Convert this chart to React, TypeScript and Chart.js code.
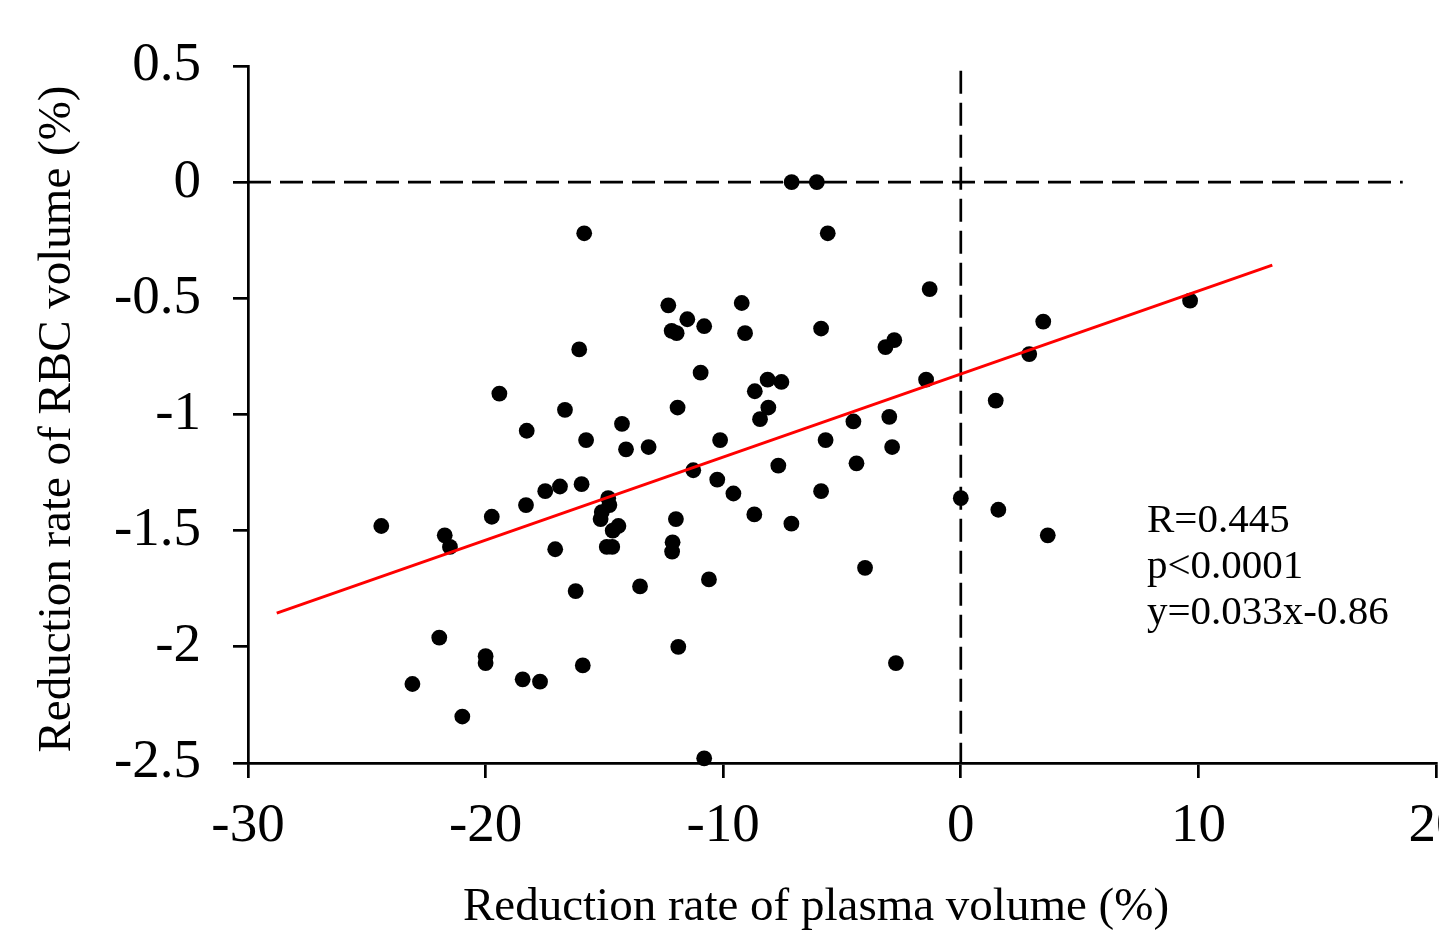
import React, { useEffect, useRef } from 'react';
import { Chart, registerables } from 'chart.js';

Chart.register(...registerables);

// Scatter data: reduction rate of plasma volume (%) vs reduction rate of RBC volume (%)
const plasmaX = [
  -24.39, -21.72, -21.5, -21.95, -23.08, -20.98, -20.0, -20.0, -19.74, -19.42,
  -18.27, -18.3, -18.44, -17.71, -17.49, -16.87, -17.07, -16.66, -16.06, -15.85,
  -15.77, -15.96, -16.21, -15.91, -14.84, -14.79, -15.11, -15.16, -14.41, -14.65,
  -14.9, -14.67, -14.26, -14.09, -13.14, -13.5, -12.31, -12.17, -11.96, -11.51,
  -10.8, -10.95, -11.92, -11.26, -11.99, -12.13, -12.15, -11.89, -10.6, -10.8,
  -10.25, -10.13, -9.57, -9.22, -9.08, -8.67, -8.1, -8.45, -8.13, -7.55,
  -8.69, -7.68, -7.13, -7.12, -6.06, -5.6, -5.88, -5.69, -5.88, -4.52,
  -4.39, -4.03, -3.17, -2.8, -3.01, -2.89, -2.73, -1.31, -1.46, 0.0,
  1.47, 1.58, 2.88, 3.47, 3.66, 9.65,
];
const rbcY = [
  -1.48, -1.52, -1.57, -1.96, -2.16, -2.3, -2.04, -2.07, -1.44, -0.91,
  -1.07, -1.39, -2.14, -2.15, -1.33, -1.31, -1.58, -0.98, -0.72, -0.22,
  -1.11, -1.3, -1.76, -2.08, -1.36, -1.39, -1.42, -1.45, -1.48, -1.5,
  -1.57, -1.57, -1.04, -1.15, -1.14, -1.74, -0.53, -0.64, -0.65, -0.59,
  -0.62, -0.82, -0.97, -1.24, -1.45, -1.55, -1.59, -2.0, -1.71, -2.48,
  -1.28, -1.11, -1.34, -0.52, -0.65, -0.9, -0.97, -1.02, -0.85, -0.86,
  -1.43, -1.22, -1.47, 0.0, 0.0, -0.22, -0.63, -1.11, -1.33, -1.03,
  -1.21, -1.66, -0.71, -0.68, -1.01, -1.14, -2.07, -0.46, -0.85, -1.36,
  -0.94, -1.41, -0.74, -0.6, -1.52, -0.51,
];

// Regression line end points
const fitX = [-28.79, 13.11];
const fitY = [-1.855, -0.357];

// Dashed reference lines at y = 0 and x = 0
const hRefX = [-30, 18.6];
const hRefY = [0, 0];
const vRefX = [0, 0];
const vRefY = [0.48, -2.5];

const xTicks = [-30, -20, -10, 0, 10, 20];
const xTickLabels = ['-30', '-20', '-10', '0', '10', '20'];
const yTicks = [0.5, 0, -0.5, -1, -1.5, -2, -2.5];
const yTickLabels = ['0.5', '0', '-0.5', '-1', '-1.5', '-2', '-2.5'];

const xTitle = 'Reduction rate of plasma volume (%)';
const yTitle = 'Reduction rate of RBC volume (%)';
const statsLines = ['R=0.445', 'p<0.0001', 'y=0.033x-0.86'];

const SERIF = '"Liberation Serif", "Times New Roman", Times, serif';

const textPlugin = {
  id: 'customTexts',
  afterDraw(chart: any) {
    const ctx = chart.ctx;
    ctx.save();
    ctx.fillStyle = '#000';
    ctx.font = `47px ${SERIF}`;
    ctx.textAlign = 'center';
    ctx.textBaseline = 'alphabetic';
    ctx.fillText(xTitle, 816, 920);
    ctx.translate(70, 419);
    ctx.rotate(-Math.PI / 2);
    ctx.fillText(yTitle, 0, 0);
    ctx.restore();

    ctx.save();
    ctx.fillStyle = '#000';
    ctx.font = `41px ${SERIF}`;
    ctx.textAlign = 'left';
    ctx.textBaseline = 'alphabetic';
    statsLines.forEach((t, i) => ctx.fillText(t, 1147, 532 + i * 46));
    ctx.restore();
  },
};

const toPts = (xs: number[], ys: number[]) => xs.map((x, i) => ({ x, y: ys[i] }));

export default function App() {
  const ref = useRef<HTMLCanvasElement | null>(null);

  useEffect(() => {
    if (!ref.current) return;
    const chart = new Chart(ref.current, {
      type: 'scatter',
      data: {
        datasets: [
          {
            label: 'fit',
            data: toPts(fitX, fitY),
            showLine: true,
            borderColor: '#ff0000',
            borderWidth: 3,
            pointRadius: 0,
            order: 0,
          } as any,
          {
            label: 'data',
            data: toPts(plasmaX, rbcY),
            backgroundColor: '#000',
            borderColor: '#000',
            borderWidth: 0,
            pointRadius: 7.9,
            pointHoverRadius: 7.9,
            order: 1,
          },
          {
            label: 'h0',
            data: toPts(hRefX, hRefY),
            showLine: true,
            borderColor: '#000',
            borderWidth: 2.7,
            borderDash: [23, 9],
            pointRadius: 0,
            order: 2,
          } as any,
          {
            label: 'v0',
            data: toPts(vRefX, vRefY),
            showLine: true,
            borderColor: '#000',
            borderWidth: 2.7,
            borderDash: [23, 9],
            pointRadius: 0,
            order: 2,
          } as any,
        ],
      },
      options: {
        responsive: false,
        animation: false,
        devicePixelRatio: 1,
        clip: false as any,
        layout: { padding: { left: 0, top: 66, right: 64, bottom: 0 } },
        plugins: {
          legend: { display: false },
          tooltip: { enabled: false },
        },
        scales: {
          x: {
            type: 'linear',
            min: -30,
            max: 20,
            afterBuildTicks: (scale: any) => {
              scale.ticks = xTicks.map((v) => ({ value: v }));
            },
            afterFit: (scale: any) => {
              scale.height = 168;
            },
            ticks: {
              color: '#000',
              font: { family: SERIF, size: 55 },
              padding: 16,
              maxRotation: 0,
              autoSkip: false,
              callback: (v: any) => {
                const i = xTicks.indexOf(Number(v));
                return i >= 0 ? xTickLabels[i] : '';
              },
            },
            grid: {
              display: true,
              drawOnChartArea: false,
              drawTicks: true,
              tickLength: 15,
              color: '#000',
              lineWidth: 2.7,
            },
            border: { display: true, color: '#000', width: 2.7 },
          },
          y: {
            type: 'linear',
            min: -2.5,
            max: 0.5,
            afterBuildTicks: (scale: any) => {
              scale.ticks = yTicks.map((v) => ({ value: v }));
            },
            afterFit: (scale: any) => {
              scale.width = 248;
            },
            ticks: {
              color: '#000',
              font: { family: SERIF, size: 55 },
              padding: 32,
              autoSkip: false,
              callback: (v: any) => {
                const i = yTicks.indexOf(Number(v));
                return i >= 0 ? yTickLabels[i] : '';
              },
            },
            grid: {
              display: true,
              drawOnChartArea: false,
              drawTicks: true,
              tickLength: 15,
              color: '#000',
              lineWidth: 2.7,
            },
            border: { display: true, color: '#000', width: 2.7 },
          },
        },
      },
      plugins: [textPlugin],
    });
    return () => chart.destroy();
  }, []);

  return (
    <div
      style={{
        position: 'absolute',
        left: 0,
        top: 0,
        width: 1439,
        height: 931,
        overflow: 'hidden',
        background: '#fff',
      }}
    >
      <canvas ref={ref} width={1500} height={931} style={{ width: 1500, height: 931, display: 'block' }} />
    </div>
  );
}
